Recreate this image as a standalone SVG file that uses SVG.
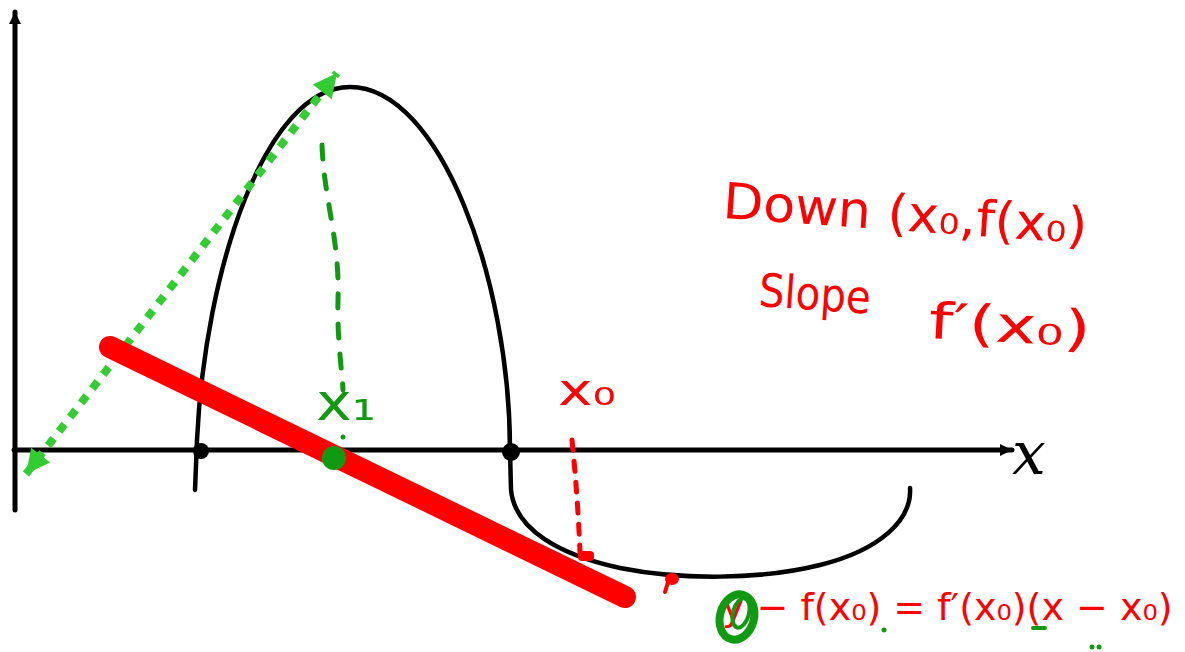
<svg xmlns="http://www.w3.org/2000/svg" width="1185" height="652" viewBox="0 0 1185 652">
<style>
.ax{stroke:#000;stroke-width:5;fill:none;stroke-linecap:round}
.crv{stroke:#000;stroke-width:4.5;fill:none;stroke-linecap:round;stroke-linejoin:round}
.red{fill:#ff0000;font-family:"DejaVu Sans","Liberation Sans",sans-serif}
.grn{fill:#119911;font-family:"DejaVu Sans","Liberation Sans",sans-serif}
</style>
<defs>
<marker id="ah" viewBox="0 0 10 10" refX="10" refY="5" markerUnits="userSpaceOnUse" markerWidth="16" markerHeight="12" orient="auto"><path d="M0,0 L10,5 L0,10 z" fill="#000"/></marker>
<marker id="gh" viewBox="0 0 10 10" refX="10" refY="5" markerUnits="userSpaceOnUse" markerWidth="26" markerHeight="24" orient="auto-start-reverse"><path d="M0,0 L10,5 L0,10 z" fill="#33cc33"/></marker>
</defs>
<rect width="1185" height="652" fill="#fff"/>
<g id="axes">
<line class="ax" x1="15" y1="510" x2="15" y2="12" marker-end="url(#ah)"/>
<line class="ax" x1="14" y1="450" x2="1012" y2="450" marker-end="url(#ah)"/>
<text x="1012" y="474" font-family="DejaVu Serif,serif" font-style="italic" font-size="60" fill="#000">x</text>
</g>
<g id="curve">
<path class="crv" d="M195,490 L197,440 C205,270 265,87 350,87 C440,87 510,280 510,450 L511,490 C515,530 560,555 620,568 C680,580 760,580 820,565 C880,550 912,520 910,488"/>
<circle cx="201" cy="451" r="8" fill="#000"/>
<circle cx="511" cy="452" r="9" fill="#000"/>
</g>
<g id="connectors">
<line x1="26" y1="474" x2="337" y2="73" stroke="#33cc33" stroke-width="8" stroke-dasharray="9,9" marker-start="url(#gh)" marker-end="url(#gh)"/>
<path d="M322,145 C324,200 340,240 338,300 C337,340 342,370 343,390" stroke="#119911" stroke-width="5" fill="none" stroke-dasharray="14,16" stroke-linecap="round"/>
<path d="M572,440 Q578,500 580,553" stroke="#ff0000" stroke-width="5" fill="none" stroke-dasharray="10,11" stroke-linecap="round"/>
</g>
<g id="tangent-line">
<line x1="110" y1="347" x2="625" y2="597" stroke="#ff0000" stroke-width="22" stroke-linecap="round"/>
<rect x="578" y="551" width="16" height="10" rx="4" fill="#ff0000"/>
<ellipse cx="672" cy="579" rx="7" ry="6" fill="#ff0000"/>
<line x1="668" y1="582" x2="665" y2="592" stroke="#ff0000" stroke-width="4" stroke-linecap="round"/>
</g>
<g id="x1-point">
<circle cx="334" cy="458" r="12" fill="#119911"/>
<circle cx="343" cy="437" r="2.5" fill="#119911"/>
<text class="grn" x="316" y="420" font-size="52" textLength="60" lengthAdjust="spacingAndGlyphs">x₁</text>
</g>
<g id="x0-label">
<text class="red" x="558" y="405" font-size="44" textLength="58" lengthAdjust="spacingAndGlyphs">x₀</text>
</g>
<g id="notes">
<text class="red" x="722" y="218" font-size="50" textLength="365" lengthAdjust="spacingAndGlyphs" transform="rotate(4 722 218)">Down (x₀,f(x₀)</text>
<text class="red" x="758" y="306" font-size="46" textLength="112" lengthAdjust="spacingAndGlyphs" transform="rotate(4 758 306)">Slope</text>
<text class="red" x="928" y="338" font-size="50" textLength="162" lengthAdjust="spacingAndGlyphs" transform="rotate(3 928 338)">f′(x₀)</text>
</g>
<g id="equation">
<text class="red" x="722" y="620" font-size="38">y − f(x₀) = f′(x₀)(x − x₀)</text>
<g fill="none" stroke="#119911" stroke-linecap="round">
<ellipse cx="737" cy="617" rx="17" ry="23" stroke-width="8" transform="rotate(15 737 617)"/>
<ellipse cx="741" cy="613" rx="8" ry="15" stroke-width="4" transform="rotate(15 741 613)"/>
</g>
<circle cx="884" cy="630" r="2.5" fill="#119911"/>
<line x1="1033" y1="628" x2="1045" y2="628" stroke="#119911" stroke-width="4" stroke-linecap="round"/>
<circle cx="1092" cy="647" r="2.5" fill="#119911"/>
<circle cx="1099" cy="647" r="2.5" fill="#119911"/>
</g>
</svg>
